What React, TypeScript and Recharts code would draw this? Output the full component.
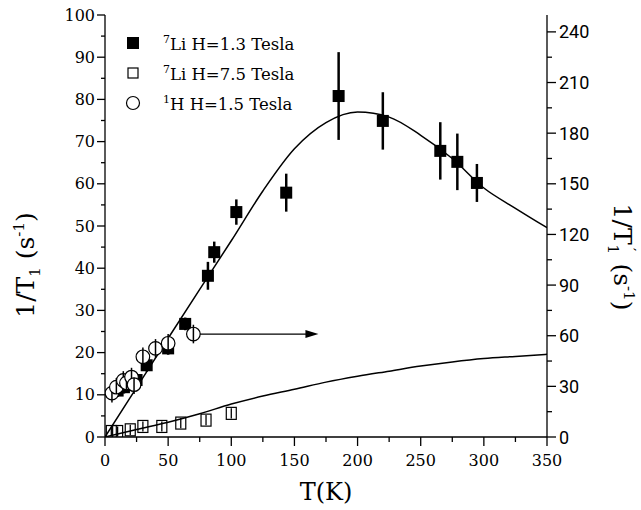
import {
  ComposedChart,
  Line,
  Scatter,
  XAxis,
  YAxis,
  ErrorBar,
  Legend,
  ReferenceLine,
} from "recharts";

const serif = "DejaVu Serif";
const sans = "Roboto";

// 7Li, H = 1.3 Tesla (left axis, s^-1)
const li13T = [10, 15, 20, 25, 33, 50, 63.5, 81.5, 86.5, 104, 143.5, 185, 220, 265.5, 279, 294.5];
const li13Rate = [11, 11.8, 12.5, 13.5, 17, 21, 26.8, 38.2, 43.8, 53.3, 57.9, 80.8, 74.9, 67.8, 65.2, 60.2];
const li13Err = [1.5, 1.5, 1.5, 1.5, 1.5, 1.5, 1.5, 3.3, 2.5, 3, 4.5, 10.4, 6.8, 6.8, 6.7, 4.5];

// 7Li, H = 7.5 Tesla (left axis)
const li75T = [5, 10, 20, 30, 45, 60, 80, 100];
const li75Rate = [1.3, 1.3, 1.7, 2.5, 2.5, 3.3, 4.0, 5.6];
const li75Err = [1.2, 1.2, 1.2, 1.2, 1.2, 1.2, 1.2, 1.2];

// 1H, H = 1.5 Tesla (right axis)
const h15T = [5.5, 9, 14.5, 17, 21, 23, 30, 40, 50, 70];
const h15Rate = [26, 29.5, 33.5, 32, 35.5, 31, 47.5, 52.5, 55.5, 61];
const h15Err = [5.5, 5.5, 5.5, 5.5, 5.5, 5.5, 5.5, 5.5, 5.5, 5.5];

// fitted curves
const fitT = [0, 25, 50, 75, 100, 125, 150, 175, 200, 225, 250, 275, 300, 325, 350];
const fitLowField = [0, 11.7, 23.4, 35, 46.5, 58.3, 68.3, 74.5, 77, 75.8, 71.5, 66, 59, 54.2, 49.6];
const fitHighField = [0, 1.8, 3.5, 5.5, 7.8, 9.7, 11.3, 13.0, 14.4, 15.6, 16.8, 17.8, 18.6, 19.1, 19.6];

// arrow pointing at the right axis
const arrowT = [75, 169];
const arrowRate = 61;

const xTicks = [0, 25, 50, 75, 100, 125, 150, 175, 200, 225, 250, 275, 300, 325, 350];
const leftTicks = [0, 5, 10, 15, 20, 25, 30, 35, 40, 45, 50, 55, 60, 65, 70, 75, 80, 85, 90, 95, 100];
const rightTicks = [0, 15, 30, 45, 60, 75, 90, 105, 120, 135, 150, 165, 180, 195, 210, 225, 240];

const legendMass = ["7", "7", "1"];
const legendText = ["Li H=1.3 Tesla", "Li H=7.5 Tesla", "H H=1.5 Tesla"];
const legendMarks = ["filled", "open", "circle"];

const rows = (t: number[], v: number[], e?: number[]) =>
  t.map((T, i) => ({ T, v: v[i], err: e ? e[i] : 0 }));

const FilledSquare = (p: any) => (
  <rect x={p.cx - 6} y={p.cy - 6} width={12} height={12} fill="#000" />
);
const OpenSquare = (p: any) => (
  <rect x={p.cx - 5} y={p.cy - 6} width={10} height={12} fill="none" stroke="#000" strokeWidth={1.2} />
);
const OpenCircle = (p: any) => (
  <g>
    <circle cx={p.cx} cy={p.cy} r={6.8} fill="#fff" stroke="#000" strokeWidth={1.2} />
    <line x1={p.cx} x2={p.cx} y1={p.cy - 6.8} y2={p.cy + 6.8} stroke="#000" strokeWidth={1.5} />
  </g>
);

const LeftTick = ({ x, y, payload }: any) => {
  const major = payload.value % 10 === 0;
  return (
    <g>
      <line x1={x} x2={x - (major ? 8 : 4)} y1={y} y2={y} stroke="#000" strokeWidth={1.3} />
      {major && (
        <text x={x - 10} y={y} dy={5.5} textAnchor="end" fontFamily={serif} fontSize={16} fill="#000">
          {payload.value}
        </text>
      )}
    </g>
  );
};

const RightTick = ({ x, y, payload }: any) => {
  const major = payload.value % 30 === 0;
  return (
    <g>
      <line x1={x} x2={x + (major ? 9 : 5)} y1={y} y2={y} stroke="#000" strokeWidth={1.3} />
      {major && (
        <text x={x + 12} y={y} dy={6.5} textAnchor="start" fontFamily={sans} fontSize={18} fill="#000">
          {payload.value}
        </text>
      )}
    </g>
  );
};

const BottomTick = ({ x, y, payload }: any) => {
  const major = payload.value % 50 === 0;
  return (
    <g>
      <line x1={x} x2={x} y1={y} y2={y + (major ? 9 : 5)} stroke="#000" strokeWidth={1.3} />
      {major && (
        <text x={x} y={y + 29} textAnchor="middle" fontFamily={serif} fontSize={16} fill="#000">
          {payload.value}
        </text>
      )}
    </g>
  );
};

const TopTick = ({ x, y, payload }: any) => {
  const major = payload.value % 50 === 0;
  return <line x1={x} x2={x} y1={y} y2={y + (major ? 8 : 4)} stroke="#000" strokeWidth={1.3} />;
};

const LeftTitle = () => (
  <text transform="rotate(-90, 34, 265)" x={34} y={265} textAnchor="middle" fontFamily={serif} fontSize={25} fill="#000">
    1/T
    <tspan dy={6} fontSize={15}>1</tspan>
    <tspan dy={-6}> (s</tspan>
    <tspan dy={-10} fontSize={15}>-1</tspan>
    <tspan dy={10}>)</tspan>
  </text>
);

const RightTitle = () => (
  <text transform="rotate(90, 614, 257)" x={614} y={257} textAnchor="middle" fontFamily={serif} fontSize={25} fill="#000">
    1/T
    <tspan dy={6} fontSize={15}>1</tspan>
    <tspan dx={-6} dy={-17} fontSize={15}>{"\u2032"}</tspan>
    <tspan dx={4} dy={11}> (s</tspan>
    <tspan dy={-10} fontSize={15}>-1</tspan>
    <tspan dy={10}>)</tspan>
  </text>
);

const BottomTitle = () => (
  <text x={326} y={500} textAnchor="middle" fontFamily={serif} fontSize={24} fill="#000">
    T(K)
  </text>
);

const Arrow = (p: any) => (
  <g>
    <line x1={p.x1} x2={p.x2 - 10} y1={p.y1} y2={p.y2} stroke="#000" strokeWidth={1.3} />
    <polygon points={`${p.x2},${p.y2} ${p.x2 - 13},${p.y2 - 4} ${p.x2 - 13},${p.y2 + 4}`} fill="#000" />
  </g>
);

const LegendBox = () => (
  <div style={{ fontFamily: serif, fontSize: 16.5, color: "#000" }}>
    {legendText.map((label, i) => (
      <div key={label} style={{ display: "flex", alignItems: "center", height: 30 }}>
        <svg width={16} height={16} style={{ marginRight: 22 }}>
          {legendMarks[i] === "filled" && <rect x={2} y={2} width={12} height={12} fill="#000" />}
          {legendMarks[i] === "open" && <rect x={3} y={3} width={10} height={10} fill="none" stroke="#000" strokeWidth={1.2} />}
          {legendMarks[i] === "circle" && <circle cx={8} cy={8} r={6.5} fill="none" stroke="#000" strokeWidth={1.2} />}
        </svg>
        <span>
          <sup style={{ fontSize: 11 }}>{legendMass[i]}</sup>
          {label}
        </span>
      </div>
    ))}
  </div>
);

export default function App() {
  const li13 = rows(li13T, li13Rate, li13Err);
  const li75 = rows(li75T, li75Rate, li75Err);
  const h15 = rows(h15T, h15Rate, h15Err);
  const fitLow = rows(fitT, fitLowField);
  const fitHigh = rows(fitT, fitHighField);

  return (
    <div style={{ position: "absolute", left: 0, top: 0, width: 641, height: 510, background: "#fff" }}>
      <ComposedChart width={641} height={510} margin={{ top: 15, right: 34, bottom: 33, left: 45 }}>
        <XAxis
          dataKey="T"
          type="number"
          domain={[0, 350]}
          ticks={xTicks}
          interval={0}
          allowDataOverflow
          height={40}
          tickSize={0}
          tickMargin={0}
          tickLine={false}
          tick={<BottomTick />}
          axisLine={{ stroke: "#000", strokeWidth: 1.3 }}
          label={{ content: () => <BottomTitle /> }}
        />
        <XAxis
          xAxisId="top"
          orientation="top"
          dataKey="T"
          type="number"
          domain={[0, 350]}
          ticks={xTicks}
          interval={0}
          allowDataOverflow
          height={0}
          tickSize={0}
          tickMargin={0}
          tickLine={false}
          tick={<TopTick />}
          axisLine={{ stroke: "#000", strokeWidth: 1.3 }}
        />
        <YAxis
          yAxisId="left"
          dataKey="v"
          type="number"
          domain={[0, 100]}
          ticks={leftTicks}
          interval={0}
          allowDataOverflow
          width={60}
          tickSize={0}
          tickMargin={0}
          tickLine={false}
          tick={<LeftTick />}
          axisLine={{ stroke: "#000", strokeWidth: 1.3 }}
          label={{ content: () => <LeftTitle /> }}
        />
        <YAxis
          yAxisId="right"
          orientation="right"
          dataKey="v"
          type="number"
          domain={[0, 250]}
          ticks={rightTicks}
          interval={0}
          allowDataOverflow
          width={60}
          tickSize={0}
          tickMargin={0}
          tickLine={false}
          tick={<RightTick />}
          axisLine={{ stroke: "#000", strokeWidth: 1.3 }}
          label={{ content: () => <RightTitle /> }}
        />
        <Legend
          layout="vertical"
          align="center"
          verticalAlign="middle"
          content={() => <LegendBox />}
          wrapperStyle={{ left: 125, top: 28, width: 240 }}
        />
        <Line
          yAxisId="left"
          data={fitLow}
          dataKey="v"
          type="monotone"
          stroke="#000"
          strokeWidth={1.5}
          dot={false}
          legendType="none"
          isAnimationActive={false}
        />
        <Line
          yAxisId="left"
          data={fitHigh}
          dataKey="v"
          type="monotone"
          stroke="#000"
          strokeWidth={1.5}
          dot={false}
          legendType="none"
          isAnimationActive={false}
        />
        <ReferenceLine
          yAxisId="right"
          segment={[
            { x: arrowT[0], y: arrowRate },
            { x: arrowT[1], y: arrowRate },
          ]}
          shape={<Arrow />}
        />
        <Scatter yAxisId="left" name="7Li H=7.5 Tesla" data={li75} shape={<OpenSquare />} isAnimationActive={false}>
          <ErrorBar dataKey="err" direction="y" width={0} stroke="#000" strokeWidth={1.3} />
        </Scatter>
        <Scatter yAxisId="left" name="7Li H=1.3 Tesla" data={li13} shape={<FilledSquare />} isAnimationActive={false}>
          <ErrorBar dataKey="err" direction="y" width={0} stroke="#000" strokeWidth={2.5} />
        </Scatter>
        <Scatter yAxisId="right" name="1H H=1.5 Tesla" data={h15} shape={<OpenCircle />} isAnimationActive={false}>
          <ErrorBar dataKey="err" direction="y" width={0} stroke="#000" strokeWidth={1.5} />
        </Scatter>
      </ComposedChart>
    </div>
  );
}
